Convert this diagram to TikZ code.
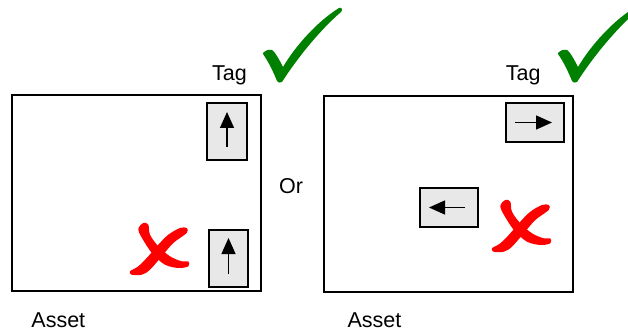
\documentclass[tikz,border=0pt]{standalone}
\usepackage{fontspec}
\setmainfont{Liberation Sans}
\usetikzlibrary{arrows.meta,calc}
\definecolor{tickgreen}{HTML}{008000}
\definecolor{crossred}{HTML}{FF0000}
\definecolor{taggray}{HTML}{E8E8E8}
\tikzset{
  assetbox/.style={draw=black, line width=1.5pt, minimum width=249pt, minimum height=196pt, inner sep=0pt},
  tagbox/.style={draw=black, line width=1.4pt, fill=taggray, inner sep=0pt},
  tagarrow/.style={line width=1.3pt, -{Triangle[length=16pt 0 0,width=14pt 0 0]}},
  lbl/.style={font=\fontsize{21.5}{24}\selectfont, inner sep=0pt, anchor=base},
  pics/checkmark/.style={code={
    \fill[tickgreen] (0,0) .. controls (3,-3) and (6,-4) .. (9,-3)
      .. controls (12,-1) and (16,6) .. (20,14)
      .. controls (33,-8) and (55,-32) .. (76,-45)
      .. controls (79,-46) and (80,-43) .. (78,-41)
      .. controls (58,-24) and (35,4) .. (19,29)
      .. controls (17,30) and (15,30) .. (14,28)
      .. controls (10,18) and (5,8) .. (0,1) -- cycle;
  }},
  pics/crossmark/.style={code={
    \fill[crossred] plot[smooth cycle, tension=0.55] coordinates {
      (23.3,8) (18.3,14.7) (25,28) (33.3,39.7) (45,49.7) (58.3,53) (68.3,51.3)
      (68.3,46.3) (61.7,46.3) (50,41.3) (38.3,31.3) (30,19.7) (28.3,9.7)};
    \fill[crossred] plot[smooth cycle, tension=0.55] coordinates {
      (66.7,13) (60,13) (48.3,19.7) (38.3,29.7) (28.3,41.3) (18.3,51.3) (10,56.3)
      (11.7,59.7) (21.7,59.7) (30,54.7) (41.7,41.3) (53.3,28) (66.7,18)};
  }}
}
\begin{document}
\begin{tikzpicture}[x=1pt,y=-1pt]
\useasboundingbox (0,0) rectangle (628,331);
\clip (0,0) rectangle (628,331);
% left panel
\node[assetbox] (a1) at (136.5,193) {};
\node[tagbox, minimum width=40pt, minimum height=57pt] (t1) at (227,131.5) {};
\node[tagbox, minimum width=39pt, minimum height=57pt] (t2) at (228.5,258.5) {};
\draw[tagarrow] ($(t1.center)+(0,15.5)$) -- ($(t1.center)+(0,-19.5)$);
\draw[tagarrow] ($(t2.center)+(0,15.5)$) -- ($(t2.center)+(0,-20.5)$);
\node[lbl] (tag1) at (229.5,80.5) {Tag};
\node[lbl] (asset1) at (58.3,327.5) {Asset};
\pic at (263,53) {checkmark};
\pic at (120,215) {crossmark};
% middle
\node[lbl] (or) at (291,193) {Or};
% right panel
\node[assetbox] (a2) at (448.5,194) {};
\node[tagbox, minimum width=58pt, minimum height=39pt] (t3) at (535,122.5) {};
\node[tagbox, minimum width=58pt, minimum height=39pt] (t4) at (449,207.5) {};
\draw[tagarrow] ($(t3.center)+(-20,0)$) -- ($(t3.center)+(17,0)$);
\draw[tagarrow] ($(t4.center)+(16,0)$) -- ($(t4.center)+(-20,0)$);
\node[lbl] (tag2) at (523.3,80.5) {Tag};
\node[lbl] (asset2) at (374.5,327.5) {Asset};
\pic at (558,53) {checkmark};
\pic at (482,192) {crossmark};
\end{tikzpicture}
\end{document}
